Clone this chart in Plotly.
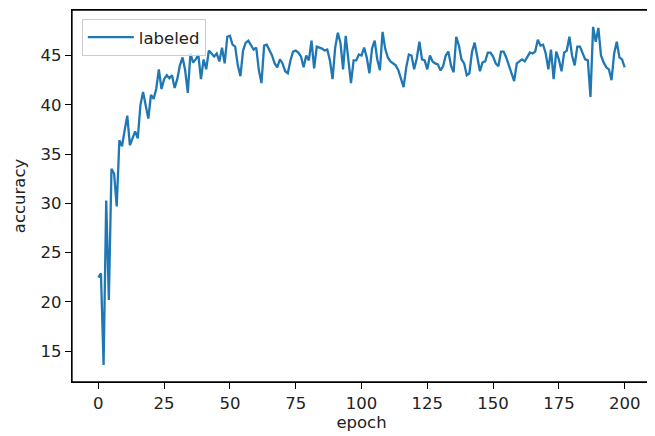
import plotly.graph_objects as go

epochs = list(range(201))
accuracy = [
    22.5, 22.9, 13.6, 30.3, 20.2, 33.5, 33.0, 29.7, 36.4, 35.8,
    37.4, 38.9, 35.9, 36.6, 37.3, 36.6, 40.0, 41.3, 40.1, 38.6,
    41.0, 40.6, 41.6, 43.6, 41.6, 42.6, 43.0, 42.7, 43.0, 41.7,
    42.6, 44.0, 44.8, 43.5, 41.2, 45.2, 44.3, 44.6, 45.1, 42.6,
    44.6, 43.6, 45.5, 45.2, 44.9, 45.2, 44.4, 45.8, 44.2, 46.9,
    47.0, 46.1, 45.9, 44.0, 42.9, 45.5, 46.3, 46.5, 46.0, 45.6,
    45.8, 43.5, 42.2, 46.0, 46.1, 45.6, 45.0, 44.2, 43.8, 44.6,
    44.2, 43.4, 43.2, 44.5, 45.4, 45.5, 45.3, 44.9, 43.8, 45.0,
    44.5, 46.5, 43.7, 45.9, 45.8, 45.7, 45.5, 45.6, 44.5, 42.6,
    45.8, 47.3, 46.3, 43.6, 47.0, 44.8, 42.2, 44.5, 44.5, 45.1,
    45.0, 45.8, 44.8, 43.2, 45.7, 46.5, 44.6, 43.5, 47.4, 45.7,
    44.8, 44.4, 44.2, 44.0, 43.5, 42.6, 41.8, 43.8, 45.1, 45.0,
    43.6, 44.7, 46.4, 44.6, 44.5, 43.6, 45.0, 44.4, 44.2, 44.1,
    43.5, 43.9, 45.0, 45.4, 44.0, 43.3, 46.9, 46.0, 44.6, 44.2,
    43.0, 43.2, 45.4, 46.3, 45.0, 43.4, 44.3, 44.4, 45.3, 45.3,
    44.9, 44.2, 43.9, 45.4, 45.4, 44.8, 44.0, 43.2, 42.4, 44.2,
    44.4, 44.6, 44.4, 44.8, 45.3, 45.2, 45.4, 46.6, 46.0, 46.1,
    45.2, 43.6, 45.6, 42.6, 45.4, 44.6, 43.4, 45.3, 45.5, 46.9,
    45.0, 44.0, 45.9, 45.9, 45.3, 44.6, 44.5, 40.8, 47.9, 46.4,
    47.8, 45.0, 44.3, 43.8, 43.6, 42.5, 45.2, 46.4, 44.8, 44.6,
    43.8,
]
x_ticks = [0, 25, 50, 75, 100, 125, 150, 175, 200]
y_ticks = [15, 20, 25, 30, 35, 40, 45]
series_name = "labeled"
x_label = "epoch"
y_label = "accuracy"

ymin, ymax = min(accuracy), max(accuracy)
pad = 0.05 * (ymax - ymin)

FS = 16.5
TXT = "#222222"

fig = go.Figure(
    go.Scatter(
        x=epochs, y=accuracy, mode="lines", name=series_name,
        line=dict(color="#1f77b4", width=2.3), showlegend=True,
    )
)

axis_common = dict(
    ticks="outside", ticklen=6, tickwidth=1.3, tickcolor="black",
    showline=True, linecolor="black", linewidth=1.3, mirror=True,
    showgrid=False, zeroline=False,
    tickfont=dict(size=FS, color=TXT),
)

# page body has an 8px default margin, so the figure is 8px smaller
fig.update_layout(
    width=647, height=428,
    margin=dict(l=64, r=4, t=2, b=54, autoexpand=False),
    paper_bgcolor="white", plot_bgcolor="white",
    font=dict(family="DejaVu Sans", size=FS, color=TXT),
    xaxis=dict(range=[-10, 210], tickvals=x_ticks,
               title=dict(text=x_label, standoff=4, font=dict(size=FS, color=TXT)),
               **axis_common),
    yaxis=dict(range=[ymin - pad, ymax + pad], tickvals=y_ticks,
               title=dict(text=y_label, standoff=10, font=dict(size=FS, color=TXT)),
               **axis_common),
    legend=dict(x=0.017, y=0.976, xanchor="left", yanchor="top",
                bordercolor="#cccccc", borderwidth=1, itemwidth=46,
                bgcolor="rgba(255,255,255,0.8)", font=dict(size=FS, color=TXT)),
    shapes=[
        dict(type="rect", xref="paper", yref="paper", x0=0, x1=1, y0=0, y1=1,
             line=dict(color="black", width=1.3), fillcolor="rgba(0,0,0,0)",
             layer="above"),
    ],
)

fig.write_html("out.html")
